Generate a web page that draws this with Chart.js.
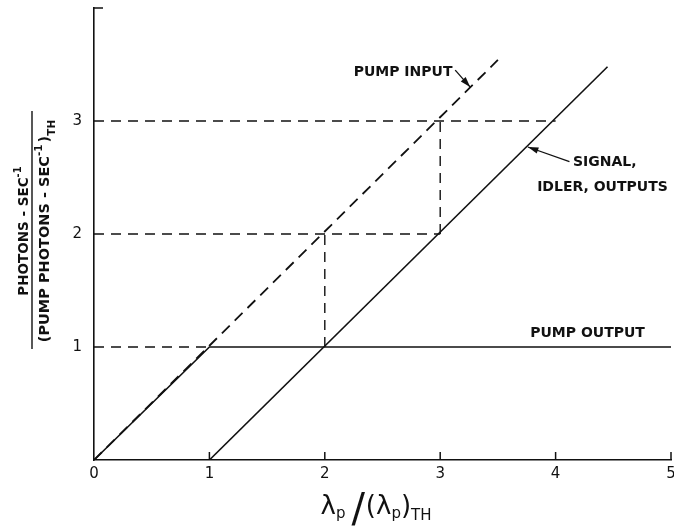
<!DOCTYPE html>
<html>
<head>
<meta charset="utf-8">
<script src="https://cdn.jsdelivr.net/npm/chart.js@4/dist/chart.umd.min.js"></script>
<style>
  html, body { margin: 0; padding: 0; background: #fff; }
</style>
</head>
<body>
<canvas id="myChart" width="674" height="529"></canvas>
<script>
// axis ticks
const xTicks = [0, 1, 2, 3, 4, 5];
const yTicks = [1, 2, 3];

// curves
const pumpInputX = [0, 3.5];
const pumpInputY = [0, 3.54];
const pumpOutputX = [0, 1, 5];
const pumpOutputY = [0, 1, 1];
const signalX = [1, 4.45];
const signalY = [0, 3.48];

// dashed construction lines (start, end)
const guideX = [[0, 1], [0, 3], [0, 4], [2, 2], [3, 3]];
const guideY = [[1, 1], [2, 2], [3, 3], [1, 2], [2, 3]];

const ink = '#111';
const font = '"DejaVu Sans", sans-serif';

function toPoints(xs, ys) {
    return xs.map((x, i) => ({ x: x, y: ys[i] }));
}

const datasets = [
    { label: 'Pump input', data: toPoints(pumpInputX, pumpInputY), borderDash: [11, 7], borderWidth: 1.8 },
    { label: 'Pump output', data: toPoints(pumpOutputX, pumpOutputY), borderWidth: 1.6 },
    { label: 'Signal, idler, outputs', data: toPoints(signalX, signalY), borderWidth: 1.6 }
];
guideX.forEach((xs, i) => {
    datasets.push({ label: 'guide', data: toPoints(xs, guideY[i]), borderDash: [10, 7], borderWidth: 1.4 });
});
datasets.forEach(d => {
    d.borderColor = ink;
    d.pointRadius = 0;
    d.tension = 0;
    d.fill = false;
});

// draws pieces of text of different size / offset one after another
function runsWidth(c, runs) {
    let w = 0;
    runs.forEach(r => {
        c.font = r.f + 'px ' + font;
        w += c.measureText(r.t).width + (r.gap || 0);
    });
    return w;
}
function drawRuns(c, runs, x, y) {
    runs.forEach(r => {
        c.font = r.f + 'px ' + font;
        c.fillText(r.t, x, y + (r.dy || 0));
        x += c.measureText(r.t).width + (r.gap || 0);
    });
}

// inward ticks, labels on the curves and the axis titles
const extras = {
    id: 'extras',
    afterDraw(chart) {
        const c = chart.ctx;
        const sx = chart.scales.x, sy = chart.scales.y;
        const px = v => sx.getPixelForValue(v);
        const py = v => sy.getPixelForValue(v);
        c.save();
        c.strokeStyle = ink;
        c.fillStyle = ink;
        c.lineWidth = 1.5;

        // x ticks point up into the plot
        xTicks.slice(1).forEach(v => {
            c.beginPath();
            c.moveTo(px(v), py(0));
            c.lineTo(px(v), py(0) - 8);
            c.stroke();
        });
        // small tick at top of y axis
        c.beginPath();
        c.moveTo(px(0), py(4));
        c.lineTo(px(0) + 9, py(4));
        c.stroke();

        // curve labels
        c.font = 'bold 14px ' + font;
        c.textBaseline = 'middle';
        c.textAlign = 'left';
        c.fillText('PUMP INPUT', px(2.25), py(3.43));
        c.fillText('SIGNAL,', px(4.15), py(2.63));
        c.fillText('IDLER, OUTPUTS', px(3.84), py(2.41));
        c.fillText('PUMP OUTPUT', px(3.78), py(1.12));

        function arrow(x0, y0, x1, y1) {
            c.lineWidth = 1.3;
            c.beginPath();
            c.moveTo(x0, y0);
            c.lineTo(x1, y1);
            c.stroke();
            const a = Math.atan2(y1 - y0, x1 - x0);
            c.beginPath();
            c.moveTo(x1, y1);
            c.lineTo(x1 - 11 * Math.cos(a - 0.3), y1 - 11 * Math.sin(a - 0.3));
            c.lineTo(x1 - 11 * Math.cos(a + 0.3), y1 - 11 * Math.sin(a + 0.3));
            c.closePath();
            c.fill();
        }
        arrow(px(3.13), py(3.45), px(3.26), py(3.30));
        arrow(px(4.12), py(2.64), px(3.76), py(2.77));

        // y axis title, a fraction turned on its side
        c.textBaseline = 'alphabetic';
        const top = [
            { t: 'PHOTONS - SEC', f: 'bold 13.5' },
            { t: '-1', f: 'bold 10', dy: -7 }
        ];
        const bottom = [
            { t: '(PUMP PHOTONS - SEC', f: 'bold 14.5' },
            { t: '-1', f: 'bold 10.5', dy: -7, gap: 2 },
            { t: ')', f: 'bold 14.5' },
            { t: 'TH', f: 'bold 10.5', dy: 6 }
        ];
        c.save();
        c.translate(0, 231);
        c.rotate(-Math.PI / 2);
        let w = runsWidth(c, top);
        drawRuns(c, top, -w / 2, 28);
        w = runsWidth(c, bottom);
        drawRuns(c, bottom, -w / 2, 49);
        c.lineWidth = 1.4;
        c.beginPath();
        c.moveTo(-118, 32);
        c.lineTo(120, 32);
        c.stroke();
        c.restore();

        // x axis title
        const xt = [
            { t: '\u03BB', f: 26 },
            { t: 'p', f: 15, dy: 4, gap: 6 },
            { t: '/', f: 40, dy: 8, gap: 1 },
            { t: '(\u03BB', f: 26 },
            { t: 'p', f: 15, dy: 4 },
            { t: ')', f: 26 },
            { t: 'TH', f: 15, dy: 6 }
        ];
        w = runsWidth(c, xt);
        drawRuns(c, xt, 376 - w / 2, 514);

        c.restore();
    }
};

const ctx = document.querySelector('#myChart').getContext('2d');
const chart = new Chart(ctx, {
    type: 'line',
    data: { datasets },
    options: {
        responsive: false,
        animation: false,
        layout: { padding: { top: 8, right: 3, left: 0, bottom: 0 } },
        plugins: {
            legend: { display: false },
            tooltip: { enabled: false }
        },
        scales: {
            x: {
                type: 'linear',
                min: 0,
                max: 5,
                afterBuildTicks: s => { s.ticks = xTicks.map(v => ({ value: v })); },
                afterFit: s => { s.height = 69; s.paddingLeft = 0; s.paddingRight = 0; },
                ticks: { color: ink, font: { family: font, size: 15 }, padding: 5, maxRotation: 0 },
                grid: { display: true, drawOnChartArea: false, drawTicks: false },
                border: { color: ink, width: 1.6 }
            },
            y: {
                type: 'linear',
                min: 0,
                max: 4,
                afterBuildTicks: s => { s.ticks = yTicks.map(v => ({ value: v })); },
                afterFit: s => { s.width = 94; s.paddingTop = 0; s.paddingBottom = 0; },
                ticks: { color: ink, font: { family: font, size: 15 }, padding: 12 },
                grid: { display: true, drawOnChartArea: false, drawTicks: false },
                border: { color: ink, width: 1.6 }
            }
        }
    },
    plugins: [extras]
});
</script>
</body>
</html>
